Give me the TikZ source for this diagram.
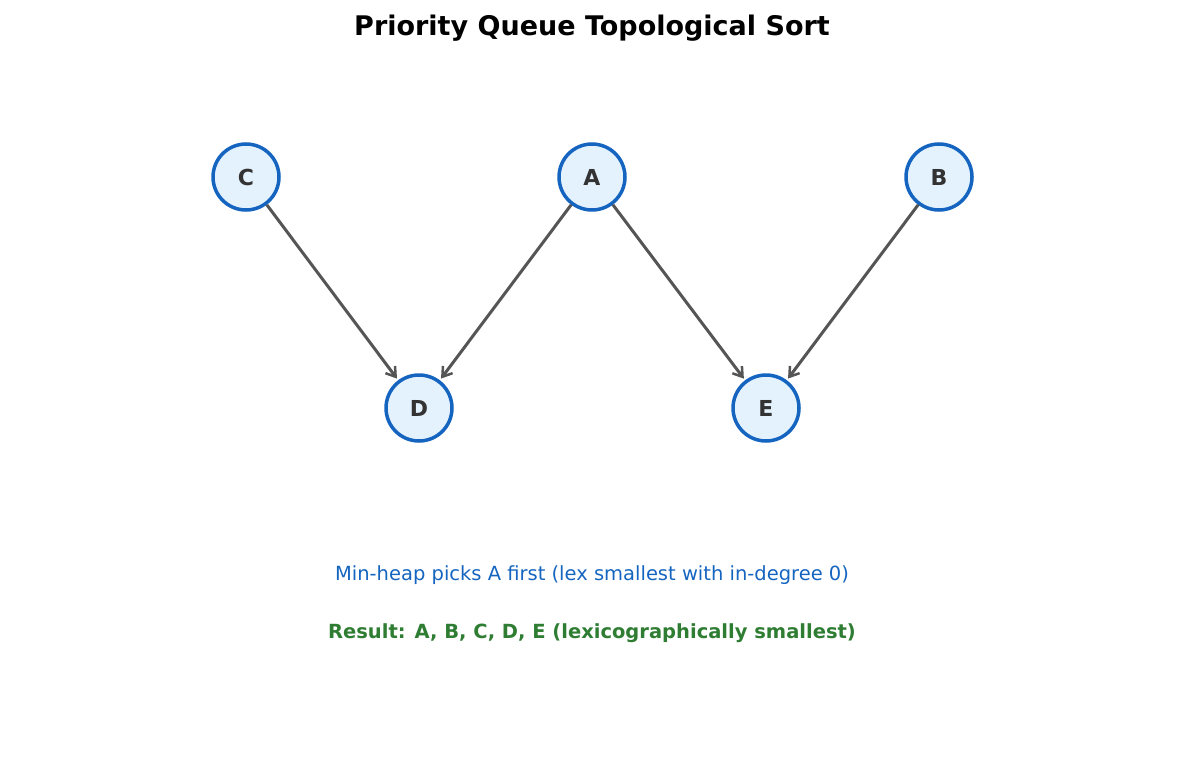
\documentclass[tikz,border=0pt]{standalone}
\usepackage{fontspec}
\setmainfont{DejaVu Sans}
\usetikzlibrary{arrows.meta}
\definecolor{nfill}{HTML}{E3F2FD}
\definecolor{nborder}{HTML}{1565C0}
\definecolor{ntext}{HTML}{333333}
\definecolor{edgec}{HTML}{555555}
\definecolor{greenc}{HTML}{2E7D32}
\begin{document}
\begin{tikzpicture}[x=1pt,y=-1pt,
  vert/.style={circle,draw=nborder,fill=nfill,line width=3.5pt,minimum size=66pt,inner sep=0pt,text=ntext,font=\fontsize{22}{26}\selectfont\bfseries},
  edge/.style={draw=edgec,line width=3pt,-{Straight Barb[length=9pt,width=12pt,line width=2.5pt]},shorten >=2pt}]
\useasboundingbox (0,0) rectangle (1185,770);
\node[font=\fontsize{27}{32}\selectfont\bfseries] (title) at (592,28) {Priority Queue Topological Sort};
\node[vert] (C) at (246,177) {C};
\node[vert] (A) at (592,177) {A};
\node[vert] (B) at (939,177) {B};
\node[vert] (D) at (419,408) {D};
\node[vert] (E) at (766,408) {E};
\draw[edge] (C) -- (D);
\draw[edge] (A) -- (D);
\draw[edge] (A) -- (E);
\draw[edge] (B) -- (E);
\node[text=nborder,font=\fontsize{19.5}{24}\selectfont] (t1) at (592,575) {Min-heap picks A first (lex smallest with in-degree 0)};
\node[text=greenc,font=\fontsize{19.5}{24}\selectfont\bfseries] (t2) at (592,633) {Result: A, B, C, D, E (lexicographically smallest)};
\end{tikzpicture}
\end{document}
